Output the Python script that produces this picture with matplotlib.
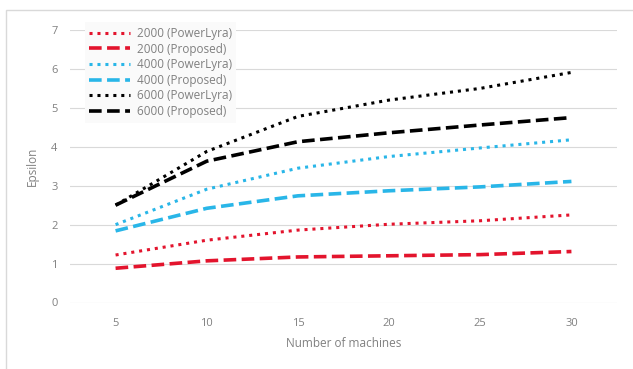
import matplotlib.pyplot as plt
from matplotlib.patches import Rectangle

machines = [5, 10, 15, 20, 25, 30]
pl2000 = [1.22, 1.60, 1.86, 2.01, 2.10, 2.25]
pr2000 = [0.88, 1.07, 1.17, 1.20, 1.23, 1.31]
pl4000 = [2.00, 2.91, 3.45, 3.75, 3.97, 4.18]
pr4000 = [1.84, 2.42, 2.74, 2.87, 2.97, 3.11]
pl6000 = [2.50, 3.88, 4.78, 5.20, 5.50, 5.91]
pr6000 = [2.50, 3.63, 4.13, 4.36, 4.56, 4.75]
labels = ['2000 (PowerLyra)', '2000 (Proposed)', '4000 (PowerLyra)',
          '4000 (Proposed)', '6000 (PowerLyra)', '6000 (Proposed)']

plt.rcParams['font.family'] = ['Open Sans', 'DejaVu Sans']
W, H = 633, 369
fig = plt.figure(figsize=(W / 100, H / 100), dpi=100)
fig.patches.append(Rectangle((6 / W, -0.1), 1.2, 1 - 10 / H + 0.1,
                             transform=fig.transFigure, fill=False,
                             edgecolor='#d9d9d9', lw=1))
ax = fig.add_axes([70 / W, 1 - 302.5 / H, 547 / W, 272.5 / H])

red, blue, black = '#E3142D', '#29B6E8', '#000000'
series = [(pl2000, red, 'dot'), (pr2000, red, 'dash'),
          (pl4000, blue, 'dot'), (pr4000, blue, 'dash'),
          (pl6000, black, 'dot'), (pr6000, black, 'dash')]
for (vals, col, kind), lab in zip(series, labels):
    if kind == 'dot':
        ax.plot(machines, vals, color=col, lw=2.2, linestyle=(0, (1, 1.6)),
                label=lab, zorder=3)
    else:
        ax.plot(machines, vals, color=col, lw=2.6, linestyle=(0, (3.5, 1.5)),
                label=lab, zorder=3)

ax.set_xlim(2.5, 32.5)
ax.set_ylim(0, 7)
ax.set_xticks(machines)
ax.set_yticks(range(0, 8))
for s in ax.spines.values():
    s.set_visible(False)
ax.grid(axis='y', color='#d9d9d9', lw=0.8)
ax.set_axisbelow(True)
ax.tick_params(length=0, labelcolor='#808080', labelsize=8)
ax.tick_params(axis='x', pad=11)
ax.tick_params(axis='y', pad=9)
ax.set_xlabel('Number of machines', color='#808080', fontsize=8.5, labelpad=6)
ax.set_ylabel('Epsilon', color='#808080', fontsize=8.5, labelpad=9)

leg = ax.legend(loc='upper left', bbox_to_anchor=(0.016, 1.05), fontsize=8.5,
                handlelength=3.4, labelspacing=0.22, handletextpad=0.6,
                facecolor='#fafafa', edgecolor='none', framealpha=1,
                fancybox=False, borderpad=0.4)
for t in leg.get_texts():
    t.set_color('#808080')

fig.savefig('out.png', dpi=100)
